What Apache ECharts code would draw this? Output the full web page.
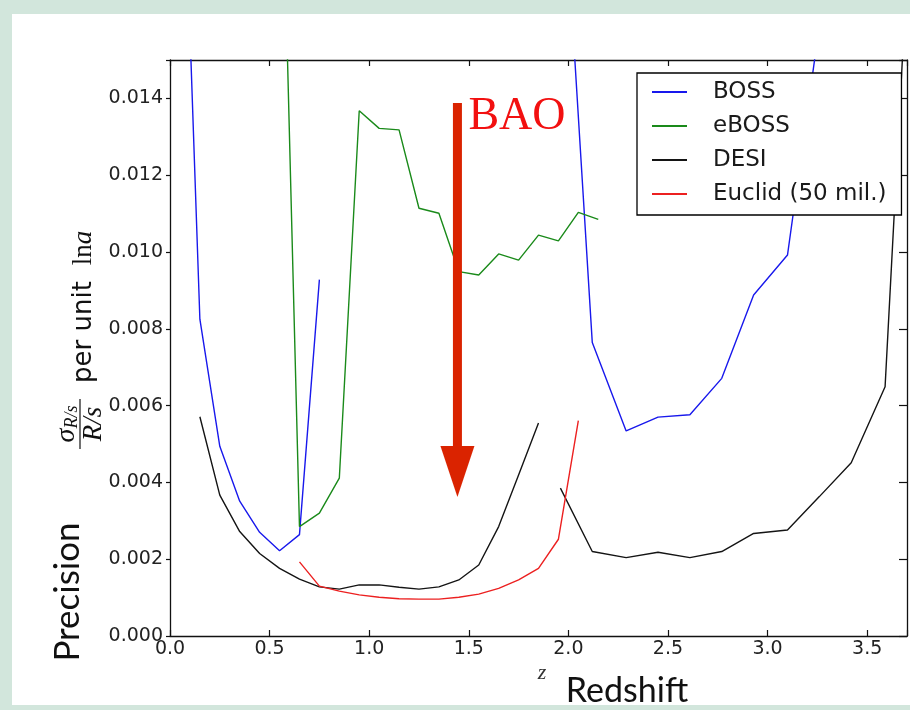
<!DOCTYPE html>
<html><head><meta charset="utf-8">
<script src="https://cdn.jsdelivr.net/npm/echarts@6/dist/echarts.min.js"></script>
<style>html,body{margin:0;padding:0;background:#d2e6dc}#c{width:910px;height:710px}</style>
</head><body><div id="c"></div>
<script>
// ---- data (redshift z, precision per unit ln a) ----
const zBossLow  = [0.05, 0.15, 0.25, 0.35, 0.45, 0.55, 0.65, 0.75];
const vBossLow  = [0.0233, 0.00825, 0.00494, 0.00351, 0.0027, 0.00222, 0.00264, 0.00928];
const zBossHigh = [1.96, 2.12, 2.29, 2.45, 2.61, 2.77, 2.93, 3.10, 3.26];
const vBossHigh = [0.0211, 0.00764, 0.00534, 0.0057, 0.00576, 0.00671, 0.00888, 0.00992, 0.0159];
const zEboss = [0.55, 0.65, 0.75, 0.85, 0.95, 1.05, 1.15, 1.25, 1.35, 1.45, 1.55, 1.65, 1.75, 1.85, 1.95, 2.05, 2.15];
const vEboss = [0.0231, 0.00285, 0.0032, 0.00411, 0.01368, 0.01322, 0.01318, 0.01114, 0.01101, 0.00949, 0.0094, 0.00995, 0.00979, 0.01044, 0.01029, 0.01103, 0.01085];
const zDesiLow  = [0.15, 0.25, 0.35, 0.45, 0.55, 0.65, 0.75, 0.85, 0.95, 1.05, 1.15, 1.25, 1.35, 1.45, 1.55, 1.65, 1.75, 1.85];
const vDesiLow  = [0.00571, 0.00367, 0.00272, 0.00215, 0.00176, 0.00148, 0.00128, 0.00122, 0.00133, 0.00133, 0.00127, 0.00122, 0.00128, 0.00146, 0.00185, 0.00285, 0.00419, 0.00555];
const zDesiHigh = [1.96, 2.12, 2.29, 2.45, 2.61, 2.77, 2.93, 3.10, 3.26, 3.42, 3.59, 3.75];
const vDesiHigh = [0.00385, 0.0022, 0.00204, 0.00218, 0.00204, 0.0022, 0.00267, 0.00276, 0.00363, 0.00451, 0.00649, 0.0222];
const zEuclid = [0.65, 0.75, 0.85, 0.95, 1.05, 1.15, 1.25, 1.35, 1.45, 1.55, 1.65, 1.75, 1.85, 1.95, 2.05];
const vEuclid = [0.00193, 0.0013, 0.00117, 0.00107, 0.00101, 0.00097, 0.00096, 0.00096, 0.00101, 0.00109, 0.00124, 0.00146, 0.00176, 0.00252, 0.00561];
const seriesNames = ['BOSS', 'eBOSS', 'DESI', 'Euclid (50 mil.)'];
const xTickStep = 0.5;
const yTickStep = 0.002;
// annotation (BAO arrow) in data units
const baoArrow = { z: 1.443, top: 0.01388, headTop: 0.00495, tip: 0.00362 };

const pairs = (zs, vs) => zs.map((z, i) => [z, vs[i]]);
const colors = { 'BOSS': '#1818ec', 'eBOSS': '#1a8a1a', 'DESI': '#141414', 'Euclid (50 mil.)': '#ec2020' };
function lineSeries(name, zs, vs) {
  return {
    name, type: 'line', data: pairs(zs, vs), showSymbol: false, symbol: 'none',
    color: colors[name], itemStyle: { color: colors[name] },
    lineStyle: { color: colors[name], width: 1.4 }, clip: true, animation: false,
    xAxisIndex: 0, yAxisIndex: 0
  };
}
const isMult = (v, s) => Math.abs(v / s - Math.round(v / s)) < 1e-6;
const axisCol = '#111';
const tickFont = { fontFamily: 'DejaVu Sans', fontSize: 19, color: '#222' };

const chart = echarts.init(document.getElementById('c'), null, { renderer: 'canvas' });
const option = {
  backgroundColor: '#d2e6dc',
  animation: false,
  grid: { left: 170, top: 60, width: 744, height: 576, containLabel: false },
  xAxis: [
    { type: 'value', min: 0, max: 3.7, interval: xTickStep, position: 'bottom',
      axisLine: { show: true, onZero: false, lineStyle: { color: axisCol, width: 1.3 } },
      axisTick: { show: true, inside: true, length: 6, lineStyle: { color: axisCol, width: 1.2 } },
      axisLabel: Object.assign({ margin: 4, formatter: v => isMult(v, xTickStep) ? v.toFixed(1) : '' }, tickFont),
      splitLine: { show: false } },
    { type: 'value', min: 0, max: 3.7, interval: xTickStep, position: 'top',
      axisLine: { show: true, onZero: false, lineStyle: { color: axisCol, width: 1.3 } },
      axisTick: { show: true, inside: true, length: 6, lineStyle: { color: axisCol, width: 1.2 } },
      axisLabel: { show: false }, splitLine: { show: false } }
  ],
  yAxis: [
    { type: 'value', min: 0, max: 0.015, interval: yTickStep, position: 'left',
      axisLine: { show: true, onZero: false, lineStyle: { color: axisCol, width: 1.3 } },
      axisTick: { show: true, inside: false, length: 4, lineStyle: { color: axisCol, width: 1.2 } },
      axisLabel: Object.assign({ margin: 7, formatter: v => isMult(v, yTickStep) ? v.toFixed(3) : '' }, tickFont),
      splitLine: { show: false } },
    { type: 'value', min: 0, max: 0.015, interval: yTickStep, position: 'right',
      axisLine: { show: true, onZero: false, lineStyle: { color: axisCol, width: 1.3 } },
      axisTick: { show: true, inside: true, length: 8, lineStyle: { color: axisCol, width: 1.2 } },
      axisLabel: { show: false }, splitLine: { show: false } }
  ],
  legend: {
    data: seriesNames, orient: 'vertical', left: 637, top: 73,
    padding: [7, 15, 9, 15], itemGap: 10, itemWidth: 35, itemHeight: 2, icon: 'rect',
    backgroundColor: '#fff', borderColor: '#000', borderWidth: 1.3, borderRadius: 0,
    selectedMode: false,
    textStyle: { fontFamily: 'DejaVu Sans', fontSize: 23, color: '#1a1a1a', lineHeight: 24, padding: [0, 0, 0, 21] }
  },
  series: [
    lineSeries('BOSS', zBossLow, vBossLow),
    lineSeries('BOSS', zBossHigh, vBossHigh),
    lineSeries('eBOSS', zEboss, vEboss),
    lineSeries('DESI', zDesiLow, vDesiLow),
    lineSeries('DESI', zDesiHigh, vDesiHigh),
    lineSeries('Euclid (50 mil.)', zEuclid, vEuclid)
  ]
};
chart.setOption(option);

const px = (z, v) => chart.convertToPixel({ xAxisIndex: 0, yAxisIndex: 0 }, [z, v]);
const aTop = px(baoArrow.z, baoArrow.top);
const aHead = px(baoArrow.z, baoArrow.headTop);
const aTip = px(baoArrow.z, baoArrow.tip);
const arrowCol = '#da2300';
const serif = '"Liberation Serif", "DejaVu Serif", serif';

chart.setOption({
  graphic: [
    { type: 'rect', z: -10, silent: true, shape: { x: 12, y: 14, width: 900, height: 691 }, style: { fill: '#ffffff' } },
    // BAO arrow
    { type: 'rect', z: 100, shape: { x: aTop[0] - 4.5, y: aTop[1], width: 9, height: aHead[1] - aTop[1] + 2 }, style: { fill: arrowCol } },
    { type: 'polygon', z: 100, shape: { points: [[aHead[0] - 17, aHead[1]], [aHead[0] + 17, aHead[1]], [aTip[0], aTip[1]]] }, style: { fill: arrowCol } },
    { type: 'text', z: 100, x: aTop[0] + 11, y: aTop[1] + 14,
      style: { text: 'BAO', font: '46px ' + serif, fill: '#f21010', textAlign: 'left', textVerticalAlign: 'middle', align: 'left', verticalAlign: 'middle' } },
    // y-axis math title (rotated)
    { type: 'group', x: 84, y: 332, rotation: Math.PI / 2, z: 50,
      children: [
        { type: 'text', x: 0, y: 0, style: { text: 'per unit', font: '26px "DejaVu Sans"', fill: '#111', textAlign: 'center', textVerticalAlign: 'middle', align: 'center', verticalAlign: 'middle' } },
        { type: 'text', x: 84, y: 0, style: { text: '{r|ln}{i|a}', fill: '#111', textAlign: 'center', textVerticalAlign: 'middle', align: 'center', verticalAlign: 'middle',
            rich: { r: { font: '27px ' + serif, fill: '#111' }, i: { font: 'italic 27px ' + serif, fill: '#111' } } } },
        { type: 'text', x: -92, y: -17, style: { text: '{s|σ}{b|R/s}', fill: '#111', textAlign: 'center', textVerticalAlign: 'middle', align: 'center', verticalAlign: 'middle',
            rich: { s: { font: 'italic 28px ' + serif, fill: '#111' }, b: { font: 'italic 18px ' + serif, fill: '#111', padding: [11, 0, 0, 0] } } } },
        { type: 'line', x: 0, y: 0, shape: { x1: -117, y1: -4, x2: -67, y2: -4 }, style: { stroke: '#111', lineWidth: 1.2 } },
        { type: 'text', x: -92, y: 10, style: { text: 'R/s', font: 'italic 27px ' + serif, fill: '#111', textAlign: 'center', textVerticalAlign: 'middle', align: 'center', verticalAlign: 'middle' } }
      ] },
    { type: 'text', x: 68, y: 592, rotation: Math.PI / 2, z: 50,
      style: { text: 'Precision', font: '35px Lato, "Open Sans", sans-serif', fill: '#111', textAlign: 'center', textVerticalAlign: 'middle', align: 'center', verticalAlign: 'middle' } },
    { type: 'text', x: 627, y: 691, z: 50,
      style: { text: 'Redshift', font: '34px Lato, "Open Sans", sans-serif', fill: '#111', textAlign: 'center', textVerticalAlign: 'middle', align: 'center', verticalAlign: 'middle' } },
    { type: 'text', x: 542, y: 673, z: 50,
      style: { text: 'z', font: 'italic 22px ' + serif, fill: '#333', textAlign: 'center', textVerticalAlign: 'middle', align: 'center', verticalAlign: 'middle' } }
  ]
});
</script>
</body></html>
